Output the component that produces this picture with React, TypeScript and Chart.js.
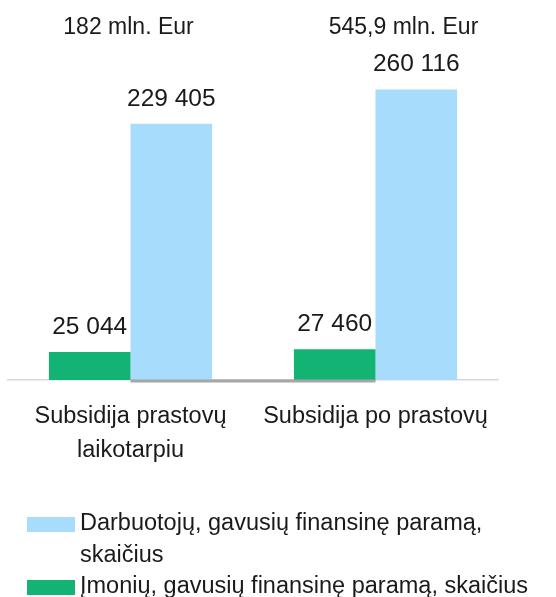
import React, { useEffect, useRef } from "react";
import { Chart, registerables } from "chart.js";

Chart.register(...registerables);

const categories: (string | string[])[] = [["Subsidija prastovų", "laikotarpiu"], "Subsidija po prastovų"];
const companies = [25044, 27460];
const employees = [229405, 260116];
const amountLabels = ["182 mln. Eur", "545,9 mln. Eur"];
const seriesNames = [
  "Įmonių, gavusių finansinę paramą, skaičius",
  "Darbuotojų, gavusių finansinę paramą, skaičius",
];
const legendLines = [
  ["Įmonių, gavusių finansinę paramą, skaičius"],
  ["Darbuotojų, gavusių finansinę paramą,", "skaičius"],
];
const yMax = 300000;

const GREEN = "#13b374";
const BLUE = "#a7dcfc";
const TEXT = "#1a1a1a";
const FONT = "'Liberation Sans', Arial, sans-serif";

const fmt = (n: number) => String(n).replace(/\B(?=(\d{3})+(?!\d))/g, " ");

const overlay = {
  id: "overlay",
  afterDraw(chart: any) {
    const ctx = chart.ctx;
    const area = chart.chartArea;
    const xs = chart.scales.x;
    ctx.save();
    // darker baseline segment
    const g = chart.getDatasetMeta(0).data;
    const b = chart.getDatasetMeta(1).data;
    if (g.length > 1 && b.length > 0) {
      const x1 = b[0].x - b[0].width / 2;
      const x2 = g[1].x + g[1].width / 2;
      ctx.strokeStyle = "#a6a6a6";
      ctx.lineWidth = 3;
      ctx.beginPath();
      ctx.moveTo(x1, area.bottom + 1);
      ctx.lineTo(x2, area.bottom + 1);
      ctx.stroke();
    }
    // value labels
    ctx.fillStyle = TEXT;
    ctx.textAlign = "center";
    ctx.textBaseline = "middle";
    ctx.font = `24.5px ${FONT}`;
    chart.data.datasets.forEach((ds: any, di: number) => {
      chart.getDatasetMeta(di).data.forEach((el: any, i: number) => {
        ctx.fillText(fmt(ds.data[i]), el.x, el.y - 25);
      });
    });
    // amount labels
    ctx.font = `23px ${FONT}`;
    const offs = [-2, 28];
    amountLabels.forEach((t, i) => {
      ctx.fillText(t, xs.getPixelForValue(i) + offs[i], 28);
    });
    // legend
    const order = [1, 0];
    const lineH = 31.5;
    let y = chart.height - 73;
    ctx.textAlign = "left";
    ctx.font = `23.5px ${FONT}`;
    order.forEach((di) => {
      const ds = chart.data.datasets[di];
      ctx.fillStyle = ds.backgroundColor;
      ctx.fillRect(27, y - 7, 48, 15);
      ctx.fillStyle = TEXT;
      legendLines[di].forEach((ln) => {
        ctx.fillText(ln, 80, y);
        y += lineH;
      });
    });
    ctx.restore();
  },
};

export default function App() {
  const ref = useRef<HTMLCanvasElement>(null);
  useEffect(() => {
    if (!ref.current) return;
    const chart = new Chart(ref.current, {
      type: "bar",
      data: {
        labels: categories as any,
        datasets: [
          { label: seriesNames[0], data: companies, backgroundColor: GREEN },
          { label: seriesNames[1], data: employees, backgroundColor: BLUE },
        ],
      },
      options: {
        responsive: false,
        animation: false,
        layout: { padding: { left: 8, right: 58, top: 45, bottom: 117 } },
        plugins: { legend: { display: false }, tooltip: { enabled: false } },
        datasets: { bar: { categoryPercentage: 0.666, barPercentage: 1 } },
        scales: {
          x: {
            grid: { display: false, drawTicks: false },
            border: { display: true, color: "#d9d9d9", width: 1.5 },
            ticks: {
              color: TEXT,
              font: { family: FONT, size: 23.5, lineHeight: 1.42 },
              padding: 20,
              maxRotation: 0,
              autoSkip: false,
            },
            afterFit: (s: any) => {
              s.height = 100;
            },
          },
          y: { display: false, min: 0, max: yMax },
        },
      },
      plugins: [overlay],
    });
    return () => chart.destroy();
  }, []);
  return (
    <div style={{ position: "fixed", left: 0, top: 0 }}>
      <canvas ref={ref} width={556} height={597} style={{ display: "block" }} />
    </div>
  );
}
